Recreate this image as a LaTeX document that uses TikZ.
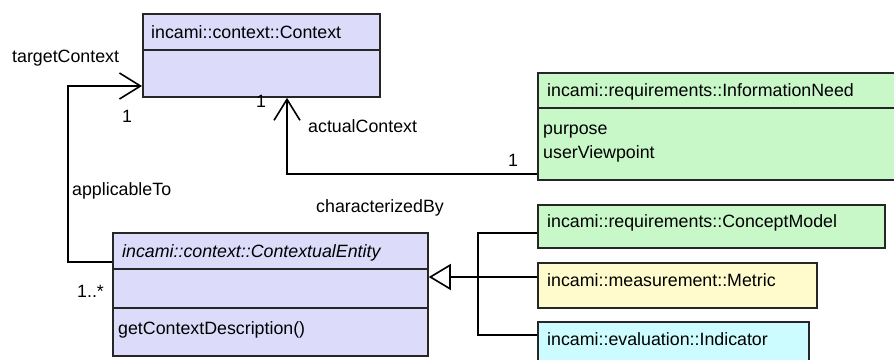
\documentclass[tikz,border=0pt]{standalone}
\usepackage{fontspec}
\setmainfont{Liberation Sans}
\usetikzlibrary{arrows.meta,calc}
\definecolor{lav}{HTML}{DCDCFA}
\definecolor{grn}{HTML}{C8F7C8}
\definecolor{ylw}{HTML}{FFFBCC}
\definecolor{cyn}{HTML}{CCFCFF}
\tikzset{
  umlbox/.style={draw=black!85, line width=1.8pt, rectangle, inner sep=0pt, anchor=north west},
  lbl/.style={inner sep=0pt, anchor=base west, font=\fontsize{17.8}{21}\selectfont},
  conn/.style={line width=1.6pt, draw=black},
  assoc/.style={conn, -{Straight Barb[length=21pt,width=26pt,line width=1.6pt]}},
  gen/.style={conn, -{Triangle[open,length=22pt,width=26pt,line width=1.6pt,fill=white]}},
}
\begin{document}
\begin{tikzpicture}[x=1pt,y=-1pt]
\useasboundingbox (0,0) rectangle (894,359);
\fill[white] (0,0) rectangle (894,359);
\clip (0,0) rectangle (894,359);

% boxes
\node[umlbox, fill=lav, minimum width=237pt, minimum height=83pt] (ctx) at (142,13) {};
\draw[line width=1.8pt, black!85] (142,50) -- (379,50);
\node[umlbox, fill=lav, minimum width=315pt, minimum height=123pt] (ce) at (112,232) {};
\draw[line width=1.8pt, black!85] (112,269) -- (427,269);
\draw[line width=1.8pt, black!85] (112,308) -- (427,308);
\node[umlbox, fill=grn, minimum width=370pt, minimum height=107pt] (inf) at (537,72) {};
\draw[line width=1.8pt, black!85] (537,108) -- (905,108);
\node[umlbox, fill=grn, minimum width=347pt, minimum height=43pt] (cm) at (537,204) {};
\node[umlbox, fill=ylw, minimum width=279pt, minimum height=45pt] (met) at (537,262) {};
\node[umlbox, fill=cyn, minimum width=271pt, minimum height=60pt] (ind) at (537,321) {};

% texts
\node[lbl] (tctx) at (151,38) {incami::context::Context};
\node[lbl, font=\fontsize{17.8}{21}\selectfont\itshape] (tce) at (122,257) {incami::context::ContextualEntity};
\node[lbl] (tgcd) at (118,334) {getContextDescription()};
\node[lbl] (tinf) at (547,96) {incami::requirements::InformationNeed};
\node[lbl] (tpur) at (543,134) {purpose};
\node[lbl] (tuvp) at (543,158) {userViewpoint};
\node[lbl] (tcm) at (547,227) {incami::requirements::ConceptModel};
\node[lbl] (tmet) at (547,286) {incami::measurement::Metric};
\node[lbl] (tind) at (547,345) {incami::evaluation::Indicator};

\node[lbl] (ltc) at (12,62.5) {targetContext};
\node[lbl] (lone1) at (122,122) {1};
\node[lbl] (lone2) at (256,107) {1};
\node[lbl] (lac) at (308,132) {actualContext};
\node[lbl] (lone3) at (508,166) {1};
\node[lbl] (lapp) at (72,195) {applicableTo};
\node[lbl] (lchar) at (316,212) {characterizedBy};
\node[lbl] (lmult) at (77,297) {1..*};

% connectors
\coordinate (bend1) at (68,262);
\draw[assoc] ([yshift=-30pt]ce.north west) -- (bend1) |- ([yshift=-73pt]ctx.north west);
\draw[assoc] ([yshift=-102pt]inf.north west) -| ([xshift=145pt]ctx.south west);

\coordinate (j) at (478,277);
\draw[conn] ([yshift=-29pt]cm.north west) -| (j) |- ([yshift=-14pt]ind.north west);
\draw[conn] ([yshift=-15pt]met.north west) -- (j);
\draw[gen] (j) -- ([yshift=-45pt]ce.north east);
\end{tikzpicture}
\end{document}
